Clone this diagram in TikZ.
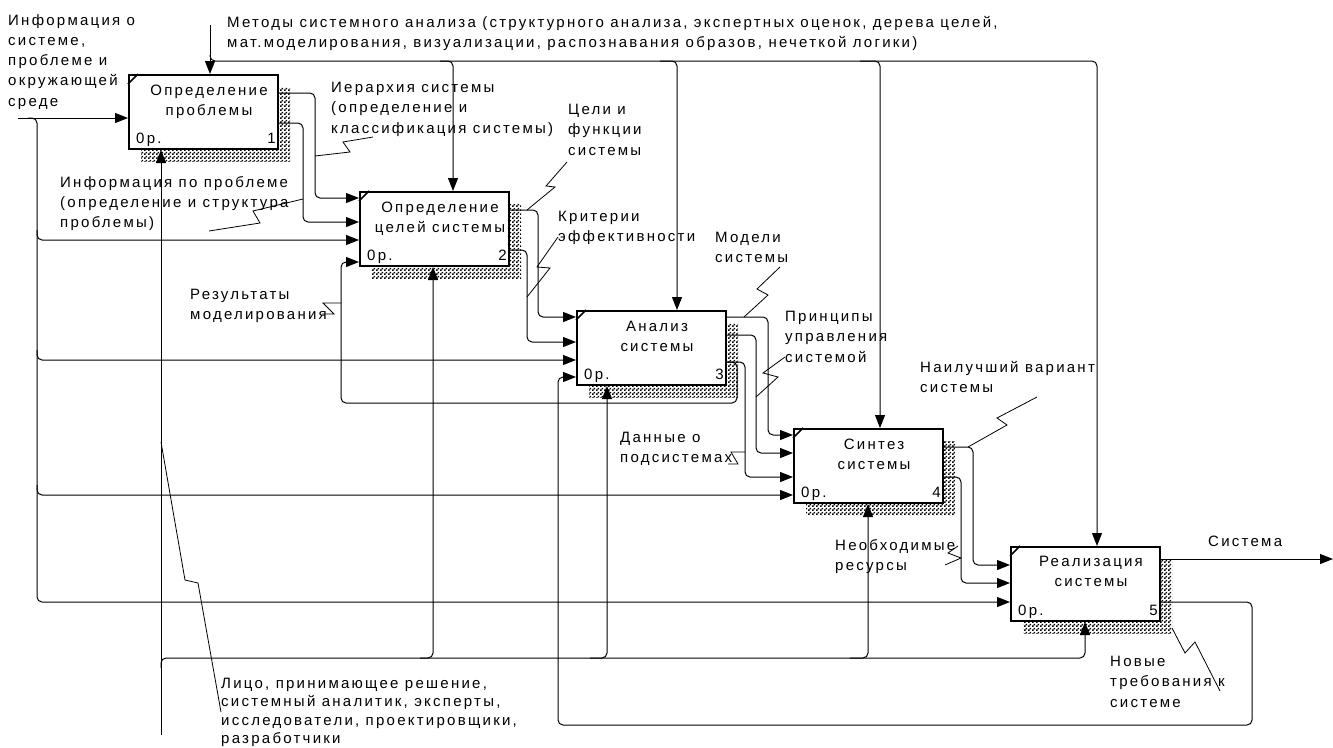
\documentclass[tikz,border=0pt]{standalone}
\usepackage{fontspec}
\setmainfont{Liberation Sans}
\newfontfamily\diafam[LetterSpace=15]{Liberation Sans}
\newcommand\diafont{\diafam\fontsize{15pt}{20.3pt}\selectfont}
\usetikzlibrary{arrows.meta,patterns.meta,shadows}

% checkered dither used for the box shadows
\pgfdeclarepattern{
  name=shadowdots,
  type=uncolored,
  bottom left={\pgfpoint{0pt}{0pt}},
  top right={\pgfpoint{4pt}{4pt}},
  tile size={\pgfpoint{4pt}{4pt}},
  code={
    \pgfpathrectangle{\pgfpointorigin}{\pgfpoint{2pt}{2pt}}
    \pgfpathrectangle{\pgfpoint{2pt}{2pt}}{\pgfpoint{2pt}{2pt}}
    \pgfusepath{fill}
  }
}

\tikzset{
  box/.style={draw, line width=2pt, fill=white, minimum width=149pt,
    minimum height=74pt, anchor=north west, inner sep=0pt,
    general shadow={pattern=shadowdots, shadow xshift=12pt, shadow yshift=-12pt}},
  conn/.style={line width=1pt, rounded corners=5pt},
  arr/.style={conn, -{Triangle[length=13pt,width=10pt]}},
  sq/.style={line width=0.8pt},
  lbl/.style={anchor=north west, inner sep=0pt, align=left, font=\diafont},
  btxt/.style={anchor=north, inner sep=0pt, align=center, font=\diafont},
  corner/.style={inner sep=0pt, font=\diafont},
  tick/.style={line width=1.5pt}
}

\begin{document}
\begin{tikzpicture}[x=1pt,y=-1pt]
\useasboundingbox (0,0) rectangle (1333,747);

% activity boxes
\node[box] (b1) at (128,74) {};
\node[box] (b2) at (359,191) {};
\node[box] (b3) at (576,310) {};
\node[box] (b4) at (793,428) {};
\node[box] (b5) at (1010,546) {};

\foreach \b/\n in {b1/1,b2/2,b3/3,b4/4,b5/5}{
  \draw[tick] (\b.north west) ++(0,10) -- ++(10,-10);
  \node[corner, anchor=base west] at ([shift={(8,-7)}]\b.south west) {0р.};
  \node[corner, anchor=base east] at ([shift={(-3,-7)}]\b.south east) {\n};
}

\node[btxt] (t1) at ([shift={(81,11)}]b1.north west) {Определение\\проблемы};
\node[btxt] (t2) at ([shift={(81,11)}]b2.north west) {Определение\\целей системы};
\node[btxt] (t3) at ([shift={(81,11)}]b3.north west) {Анализ\\системы};
\node[btxt] (t4) at ([shift={(81,11)}]b4.north west) {Синтез\\системы};
\node[btxt] (t5) at ([shift={(81,10)}]b5.north west) {Реализация\\системы};

% external input and its branches
\coordinate (src) at (18,118);
\draw[arr] (src) -- ([shift={(0,44)}]b1.north west);
\draw[arr] (28,118) -| (37,602) -- ([shift={(0,56)}]b5.north west);
\draw[arr] (37,230) |- ([shift={(0,49)}]b2.north west);
\draw[arr] (37,350) |- ([shift={(0,50)}]b3.north west);
\draw[arr] (37,485) |- ([shift={(0,67)}]b4.north west);

% controls
\coordinate (ctl) at (210,25);
\draw[arr] (ctl) -- ([shift={(82,0)}]b1.north west);
\draw[arr] (210,55) |- (1097,61) -- ([shift={(87,0)}]b5.north west);
\draw[arr] (440,61) -| ([shift={(94,0)}]b2.north west);
\draw[arr] (660,61) -| ([shift={(101,0)}]b3.north west);
\draw[arr] (860,61) -| ([shift={(87,0)}]b4.north west);

% outputs of block 1
\draw[arr] ([shift={(0,19)}]b1.north east) -| (315,198) -- ([shift={(0,7)}]b2.north west);
\draw[arr] ([shift={(0,49)}]b1.north east) -| (303,222) -- ([shift={(0,31)}]b2.north west);

% outputs of block 2
\draw[arr] ([shift={(0,19)}]b2.north east) -| (538,317) -- ([shift={(0,7)}]b3.north west);
\draw[arr] ([shift={(0,59)}]b2.north east) -| (527,342) -- ([shift={(0,32)}]b3.north west);

% outputs of block 3
\draw[arr] ([shift={(0,7)}]b3.north east) -| (768,435) -- ([shift={(0,7)}]b4.north west);
\draw[arr] ([shift={(0,25)}]b3.north east) -| (756,453) -- ([shift={(0,25)}]b4.north west);
\draw[arr] ([shift={(0,52)}]b3.north east) -| (745,477) -- ([shift={(0,49)}]b4.north west);
\draw[arr] ([shift={(0,52)}]b3.north east) -| (737,403) -| (341,262) -- ([shift={(0,71)}]b2.north west);

% outputs of block 4
\draw[arr] ([shift={(0,19)}]b4.north east) -| (973,565) -- ([shift={(0,19)}]b5.north west);
\draw[arr] ([shift={(0,49)}]b4.north east) -| (961,583) -- ([shift={(0,37)}]b5.north west);

% outputs of block 5
\coordinate (sys) at (1333,559);
\draw[arr] ([shift={(0,13)}]b5.north east) -- (sys);
\draw[arr] ([shift={(0,56)}]b5.north east) -| (1252,725) -| (558,377) -- ([shift={(0,67)}]b3.north west);

% mechanisms
\coordinate (mech) at (161,735);
\draw[arr] (mech) -- ([shift={(33,0)}]b1.south west);
\draw[arr] (161,668) |- (1085,658) -- ([shift={(75,0)}]b5.south west);
\draw[arr] (420,658) -| ([shift={(74,0)}]b2.south west);
\draw[arr] (590,658) -| ([shift={(31,0)}]b3.south west);
\draw[arr] (850,658) -| ([shift={(75,0)}]b4.south west);

% labels
\node[lbl] (l1) at (8,14) {Информация о\\системе,\\проблеме и\\окружающей\\среде};
\node[lbl] (l2) at (227,16) {Методы системного анализа (структурного анализа, экспертных оценок, дерева целей,\\мат.моделирования, визуализации, распознавания образов, нечеткой логики)};
\node[lbl] (l3) at (331,82) {Иерархия системы\\(определение и\\классификация системы)};
\node[lbl] (l4) at (568,104) {Цели и\\функции\\системы};
\node[lbl] (l5) at (558,211) {Критерии\\эффективности};
\node[lbl] (l6) at (715,232) {Модели\\системы};
\node[lbl] (l7) at (785,311) {Принципы\\управления\\системой};
\node[lbl] (l8) at (920,361) {Наилучший вариант\\системы};
\node[lbl] (l9) at (620,432) {Данные о\\подсистемах};
\node[lbl] (l10) at (190,289) {Результаты\\моделирования};
\node[lbl] (l11) at (60,176) {Информация по проблеме\\(определение и структура\\проблемы)};
\node[lbl] (l12) at (835,539) {Необходимые\\ресурсы};
\node[lbl] (l13) at (1110,656) {Новые\\требования к\\системе};
\node[lbl] (l14) at (1208,536) {Система};
\node[lbl, font=\diafam\fontsize{15pt}{18.3pt}\selectfont] (l15) at (221,678)
  {Лицо, принимающее решение,\\системный аналитик, эксперты,\\исследователи, проектировщики,\\разработчики};

% squiggles tying labels to arrows
\draw[sq] (373,137) -- (343,142) -- (350,152) -- (315,156);
\draw[sq] (567,162) -- (546,186) -- (555,187) -- (527,210);
\draw[sq] (558,237) -- (537,267) -- (550,268) -- (527,297);
\draw[sq] (780,267) -- (757,289) -- (768,295) -- (744,317);
\draw[sq] (785,357) -- (763,373) -- (778,377) -- (756,397);
\draw[sq] (1037,397) -- (997,418) -- (1007,425) -- (968,447);
\draw[sq] (728,464) -- (738,464) -- (731,452) -- (745,452);
\draw[sq] (322,314) -- (334,314) -- (323,303) -- (341,303);
\draw[sq] (303,199) -- (253,211) -- (260,223) -- (209,231);
\draw[sq] (958,546) -- (948,553) -- (961,558) -- (945,565);
\draw[sq] (1220,691) -- (1195,642) -- (1185,653) -- (1172,628);
\draw[sq] (161,442) -- (185,580) -- (198,583) -- (221,712);
\end{tikzpicture}
\end{document}
